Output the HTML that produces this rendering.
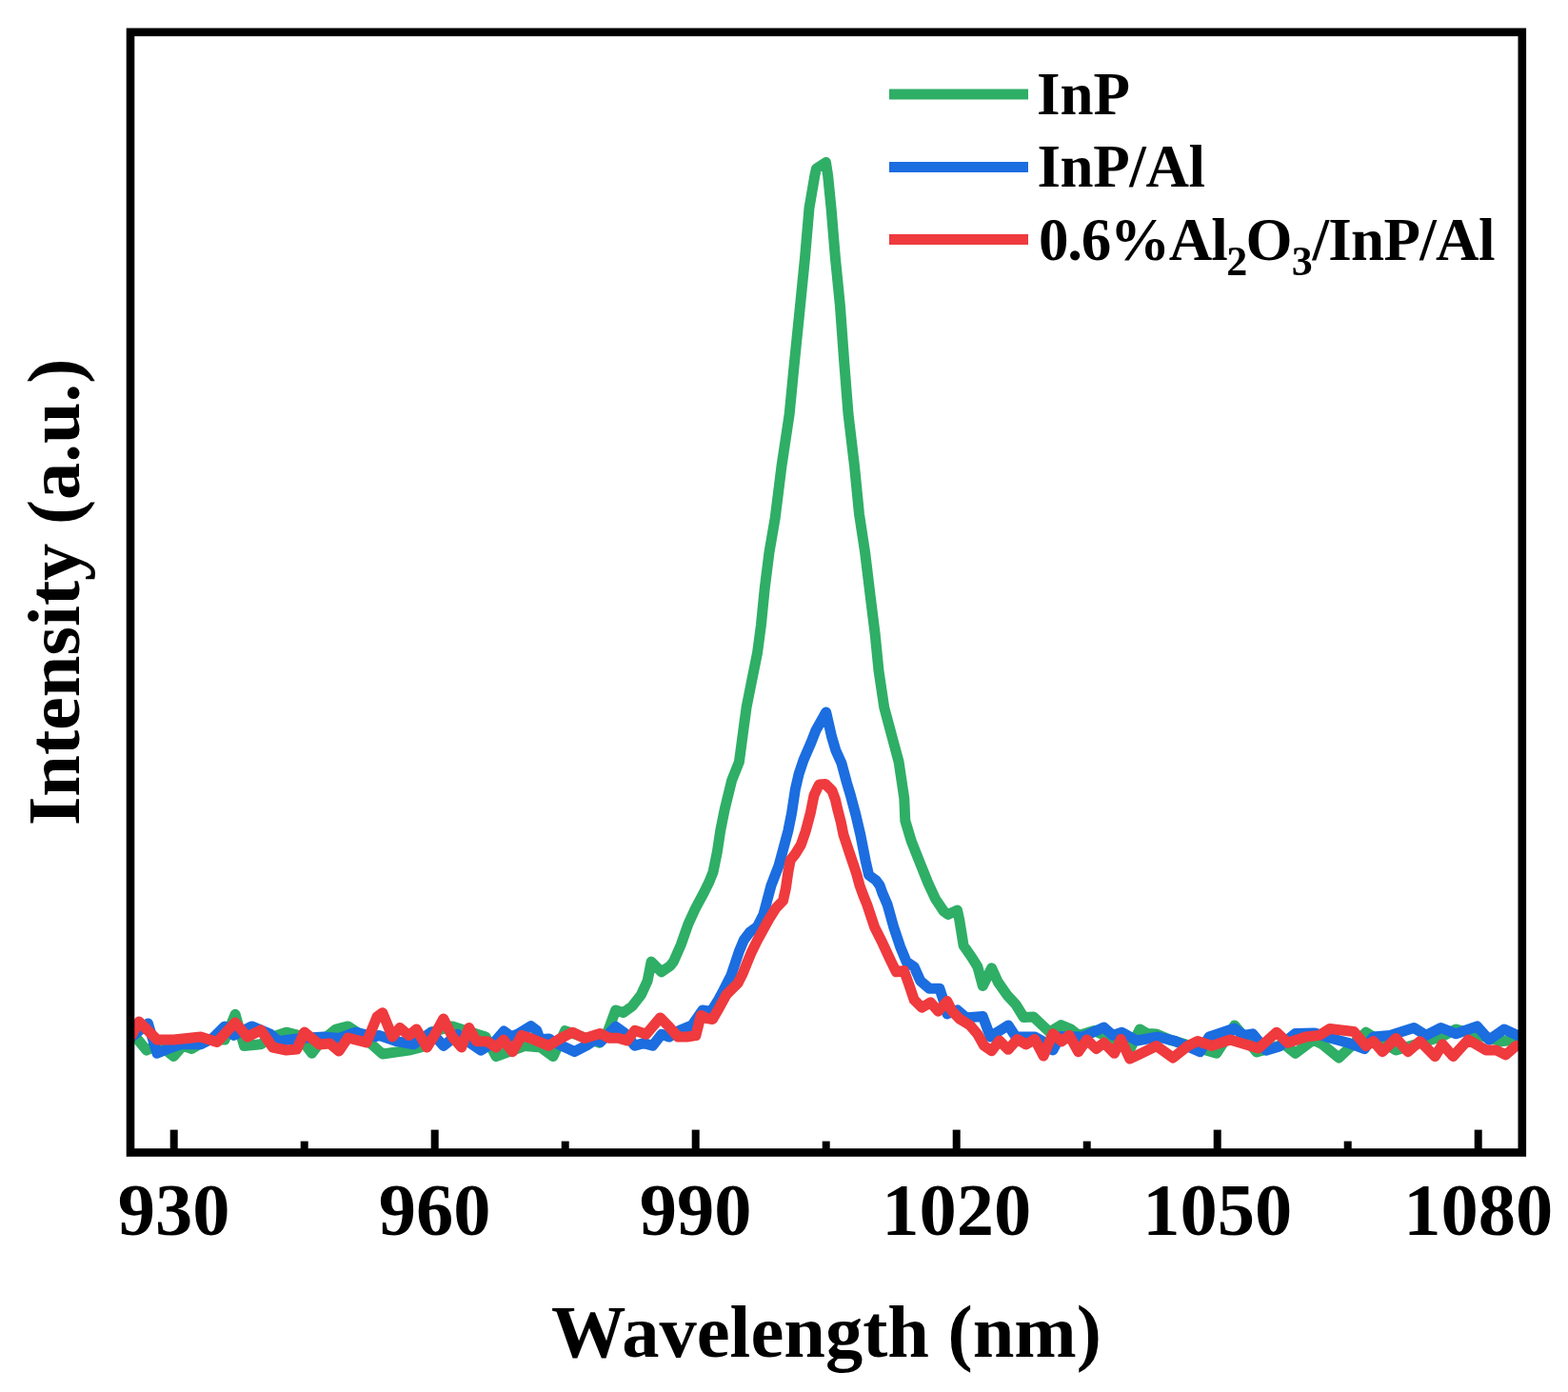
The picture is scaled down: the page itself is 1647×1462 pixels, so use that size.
<!DOCTYPE html>
<html><head><meta charset="utf-8"><style>
html,body{margin:0;padding:0;background:#fff;}
svg{display:block;}
text{font-family:"Liberation Serif","Times New Roman",serif;font-weight:bold;fill:#000;}
</style></head><body>
<svg width="1647" height="1462" viewBox="0 0 1647 1462">
<rect x="0" y="0" width="1647" height="1462" fill="#fff"/>
<defs><clipPath id="plotclip"><rect x="137" y="33.8" width="1461.8" height="1176.7"/></clipPath></defs>
<!-- CURVES -->
<g fill="none" stroke-width="11" stroke-linejoin="round" stroke-linecap="round" clip-path="url(#plotclip)">
<path stroke="#2fae66" d="M137.0,1084.0 L139.7,1085.8 L153.9,1103.1 L166.6,1096.8 L182.4,1109.5 L191.8,1098.4 L201.3,1101.6 L217.1,1092.1 L236.0,1092.1 L247.1,1065.3 L256.5,1098.4 L273.9,1096.8 L286.5,1089.0 L300.7,1084.2 L313.4,1087.4 L327.6,1106.3 L337.0,1093.7 L352.8,1081.0 L365.5,1077.9 L379.7,1087.4 L393.9,1100.0 L401.8,1107.0 L429.5,1103.1 L442.1,1100.0 L453.0,1084.0 L475.2,1077.9 L510.0,1088.9 L521.0,1109.5 L551.0,1098.5 L568.0,1100.0 L581.0,1109.5 L593.6,1082.6 L629.9,1095.2 L639.0,1082.0 L646.7,1060.9 L654.7,1063.6 L664.0,1056.9 L673.4,1044.9 L680.1,1030.2 L684.1,1010.1 L694.8,1020.8 L704.2,1014.2 L707.5,1009.9 L715.2,992.4 L722.9,970.5 L730.5,954.0 L739.3,937.6 L745.0,926.0 L749.1,915.7 L753.5,893.8 L756.8,871.9 L761.2,850.0 L768.7,819.5 L776.4,800.3 L780.2,771.6 L784.1,742.8 L789.8,714.1 L795.6,685.4 L799.4,656.6 L803.2,618.3 L808.0,580.0 L814.2,544.0 L821.0,489.4 L829.2,434.7 L834.0,385.0 L840.5,321.0 L845.6,269.7 L850.0,218.4 L855.9,184.0 L857.5,177.0 L867.5,170.5 L869.6,184.0 L873.0,218.0 L877.3,269.7 L882.4,321.0 L886.7,380.0 L891.0,434.7 L897.5,489.4 L902.5,540.0 L908.6,580.0 L914.4,627.9 L919.2,666.2 L923.0,704.5 L928.7,742.8 L936.4,771.6 L944.1,800.3 L949.8,838.6 L950.8,861.9 L957.4,883.8 L966.1,905.7 L974.9,927.6 L982.5,944.0 L991.3,957.1 L995.7,960.4 L1005.5,956.0 L1007.7,965.9 L1012.1,993.2 L1020.3,1004.8 L1026.9,1015.5 L1032.3,1035.5 L1041.6,1016.8 L1048.3,1031.5 L1057.7,1044.9 L1067.0,1055.0 L1075.3,1068.5 L1085.5,1068.0 L1095.0,1077.0 L1102.5,1084.0 L1114.4,1076.6 L1124.6,1080.8 L1133.1,1087.6 L1149.3,1082.5 L1187.9,1100.0 L1197.3,1081.0 L1205.0,1085.5 L1214.7,1086.0 L1228.9,1092.1 L1277.8,1106.3 L1296.8,1077.0 L1320.0,1105.0 L1348.9,1096.8 L1360.5,1106.3 L1379.5,1092.1 L1388.9,1096.8 L1406.3,1111.0 L1434.7,1084.2 L1466.3,1103.1 L1513.6,1089.0 L1529.4,1081.0 L1576.8,1093.7 L1592.6,1092.1 L1599.0,1092.0"/>
<path stroke="#1b6de0" d="M137.0,1090.0 L138.2,1089.0 L155.5,1075.0 L165.0,1106.3 L176.0,1101.6 L190.2,1096.8 L210.8,1096.8 L223.4,1090.5 L236.0,1077.9 L245.5,1087.4 L264.4,1077.9 L283.4,1085.8 L292.9,1093.7 L302.3,1092.1 L316.5,1090.5 L340.2,1089.0 L356.0,1090.5 L373.4,1084.2 L393.9,1089.0 L397.9,1087.4 L416.8,1093.7 L434.2,1096.8 L453.1,1084.2 L465.8,1098.4 L480.8,1086.5 L505.2,1103.1 L519.7,1094.0 L529.2,1083.1 L537.1,1088.7 L545.0,1085.5 L557.6,1077.6 L563.9,1082.4 L567.1,1091.8 L576.6,1091.0 L582.9,1095.0 L603.4,1104.5 L616.0,1098.1 L625.5,1091.8 L630.7,1094.3 L646.7,1078.3 L656.1,1085.0 L666.8,1098.3 L676.1,1095.6 L685.5,1098.3 L694.8,1086.3 L702.8,1089.0 L713.5,1082.3 L726.9,1076.9 L738.0,1061.0 L747.0,1062.5 L753.5,1052.0 L760.0,1040.0 L767.9,1024.4 L772.1,1012.0 L776.2,999.7 L781.3,987.4 L787.4,979.2 L795.6,973.1 L801.8,960.8 L805.9,945.4 L810.0,930.0 L818.0,909.3 L823.0,890.8 L827.9,872.4 L831.6,853.9 L835.3,829.3 L839.0,813.3 L843.9,798.5 L851.9,780.0 L856.8,767.4 L867.7,748.0 L867.7,748.0 L873.7,774.2 L877.8,787.9 L883.9,801.5 L889.4,822.0 L893.5,835.7 L899.0,856.2 L903.8,876.8 L909.2,904.1 L912.6,919.1 L920.2,924.6 L924.1,930.0 L927.0,938.3 L932.1,950.0 L938.8,974.1 L945.5,994.1 L952.1,1010.1 L960.2,1015.5 L966.8,1030.2 L976.2,1038.2 L986.9,1038.2 L990.9,1050.2 L994.9,1064.9 L1005.6,1060.9 L1014.9,1068.9 L1032.3,1067.6 L1040.3,1089.0 L1048.3,1083.6 L1059.0,1076.9 L1067.0,1089.0 L1077.7,1089.0 L1087.0,1089.0 L1096.4,1094.3 L1105.8,1103.1 L1113.7,1088.5 L1137.4,1089.0 L1159.5,1079.0 L1168.9,1087.4 L1178.4,1084.2 L1194.2,1093.0 L1216.3,1089.0 L1235.2,1093.7 L1260.5,1104.7 L1270.0,1089.0 L1296.8,1080.0 L1306.3,1087.4 L1315.7,1085.8 L1329.9,1103.1 L1344.0,1099.0 L1360.5,1085.5 L1381.0,1085.0 L1398.4,1090.5 L1415.8,1095.2 L1433.1,1101.6 L1442.6,1089.0 L1460.0,1087.4 L1485.2,1079.5 L1497.9,1087.4 L1513.6,1079.5 L1529.4,1085.8 L1551.5,1077.9 L1564.2,1092.1 L1580.0,1081.0 L1594.1,1087.4 L1599.0,1089.0"/>
<path stroke="#ef3a3e" d="M137.0,1086.0 L138.2,1087.4 L146.0,1073.0 L165.0,1092.0 L182.4,1092.0 L210.8,1089.0 L228.0,1094.5 L247.0,1074.0 L259.7,1089.0 L274.0,1082.0 L286.5,1100.0 L300.7,1103.0 L311.8,1102.0 L319.7,1084.0 L335.5,1097.0 L346.5,1096.0 L356.0,1104.0 L365.5,1090.0 L385.0,1095.0 L396.0,1068.0 L401.8,1063.7 L412.1,1088.9 L420.0,1079.5 L429.5,1087.4 L437.4,1081.0 L448.4,1100.0 L456.3,1087.4 L465.8,1070.0 L475.2,1088.9 L484.7,1100.0 L492.6,1079.5 L500.5,1093.7 L511.5,1093.7 L521.0,1100.0 L528.9,1092.1 L538.4,1104.7 L547.9,1087.4 L557.3,1090.5 L576.3,1098.4 L588.9,1090.5 L601.5,1084.2 L614.2,1090.5 L630.3,1085.4 L640.0,1090.3 L649.4,1090.3 L658.7,1093.0 L666.8,1082.3 L678.8,1086.3 L693.5,1068.9 L702.8,1078.3 L712.2,1089.0 L721.5,1089.0 L730.9,1087.6 L736.2,1066.4 L742.3,1069.5 L748.5,1070.5 L755.6,1058.2 L762.8,1044.9 L769.0,1038.7 L775.1,1032.6 L780.3,1022.3 L784.4,1012.0 L789.5,999.7 L795.6,987.4 L801.8,976.2 L808.0,964.9 L815.1,953.6 L822.5,946.0 L825.4,933.0 L827.9,915.5 L830.3,903.2 L835.3,897.0 L841.4,887.1 L846.4,872.4 L851.3,853.9 L855.0,835.4 L858.0,829.0 L860.5,824.0 L867.0,823.5 L874.0,830.5 L877.5,840.0 L879.5,849.0 L883.2,863.1 L886.0,876.8 L892.8,897.3 L899.7,917.8 L903.0,930.0 L906.5,939.7 L910.7,950.0 L918.7,974.1 L926.8,990.1 L936.1,1010.1 L941.4,1020.8 L949.5,1019.5 L954.8,1034.2 L960.2,1050.2 L968.2,1058.2 L977.5,1052.9 L985.5,1062.2 L994.9,1051.6 L1000.2,1062.2 L1008.2,1070.3 L1018.9,1076.9 L1026.9,1086.3 L1033.6,1098.3 L1041.6,1103.7 L1049.7,1093.0 L1059.0,1102.3 L1068.4,1091.6 L1077.7,1097.0 L1087.0,1091.6 L1096.0,1109.0 L1105.8,1085.8 L1115.3,1093.7 L1123.1,1087.4 L1132.6,1104.7 L1141.6,1092.0 L1151.6,1101.6 L1159.5,1095.2 L1170.5,1106.3 L1177.3,1091.5 L1186.7,1112.0 L1199.5,1106.0 L1214.7,1098.5 L1232.1,1111.0 L1247.9,1098.4 L1258.0,1093.5 L1273.1,1098.4 L1292.1,1092.0 L1307.8,1096.8 L1322.0,1101.0 L1341.0,1084.2 L1352.6,1095.2 L1371.6,1089.0 L1385.8,1087.4 L1396.8,1080.5 L1422.1,1083.5 L1434.7,1098.4 L1442.6,1093.7 L1452.1,1104.7 L1466.3,1090.5 L1478.9,1104.7 L1491.5,1093.7 L1507.3,1109.5 L1515.2,1096.8 L1526.3,1109.5 L1542.1,1092.1 L1561.0,1103.1 L1572.0,1103.1 L1581.5,1107.9 L1592.6,1098.4 L1599.0,1098.0"/>
</g>
<!-- /CURVES -->
<!-- frame -->
<rect x="137" y="33.8" width="1461.8" height="1176.7" fill="none" stroke="#000" stroke-width="8.6" stroke-linejoin="miter"/>
<!-- ticks -->
<g stroke="#000" stroke-width="8">
<line x1="182.7" y1="1210" x2="182.7" y2="1186.6"/>
<line x1="319.7" y1="1210" x2="319.7" y2="1198.6"/>
<line x1="456.7" y1="1210" x2="456.7" y2="1186.6"/>
<line x1="593.7" y1="1210" x2="593.7" y2="1198.6"/>
<line x1="730.7" y1="1210" x2="730.7" y2="1186.6"/>
<line x1="867.7" y1="1210" x2="867.7" y2="1198.6"/>
<line x1="1004.7" y1="1210" x2="1004.7" y2="1186.6"/>
<line x1="1141.7" y1="1210" x2="1141.7" y2="1198.6"/>
<line x1="1278.7" y1="1210" x2="1278.7" y2="1186.6"/>
<line x1="1415.7" y1="1210" x2="1415.7" y2="1198.6"/>
<line x1="1552.7" y1="1210" x2="1552.7" y2="1186.6"/>
</g>
<!-- tick labels -->
<g font-size="78.5" text-anchor="middle">
<text x="182.7" y="1297">930</text>
<text x="456.7" y="1297">960</text>
<text x="730.7" y="1297">990</text>
<text x="1004.7" y="1297">1020</text>
<text x="1278.7" y="1297">1050</text>
<text x="1552.7" y="1297">1080</text>
</g>
<!-- axis titles -->
<text x="868" y="1425" font-size="78.5" text-anchor="middle">Wavelength (nm)</text>
<text transform="translate(82.5,622) rotate(-90)" font-size="78.5" text-anchor="middle">Intensity (a.u.)</text>
<!-- legend -->
<g stroke-width="11" stroke-linecap="butt" fill="none">
<line x1="934" y1="99" x2="1080" y2="99" stroke="#2fae66"/>
<line x1="934" y1="175.6" x2="1080" y2="175.6" stroke="#1b6de0"/>
<line x1="934" y1="251.5" x2="1080" y2="251.5" stroke="#ef3a3e"/>
</g>
<g font-size="63">
<text x="1089" y="119.5">InP</text>
<text x="1089.5" y="195.5" letter-spacing="-0.4">InP/Al</text>
<text y="272.5"><tspan x="1090.9" letter-spacing="-1.2">0.6%Al</tspan><tspan x="1288.2" y="288.5" font-size="44">2</tspan><tspan x="1308.5" y="272.5">O</tspan><tspan x="1356.7" y="288.5" font-size="44">3</tspan><tspan x="1378.4" y="272.5" letter-spacing="-0.67">/InP/Al</tspan></text>
</g>
</svg>
</body></html>
